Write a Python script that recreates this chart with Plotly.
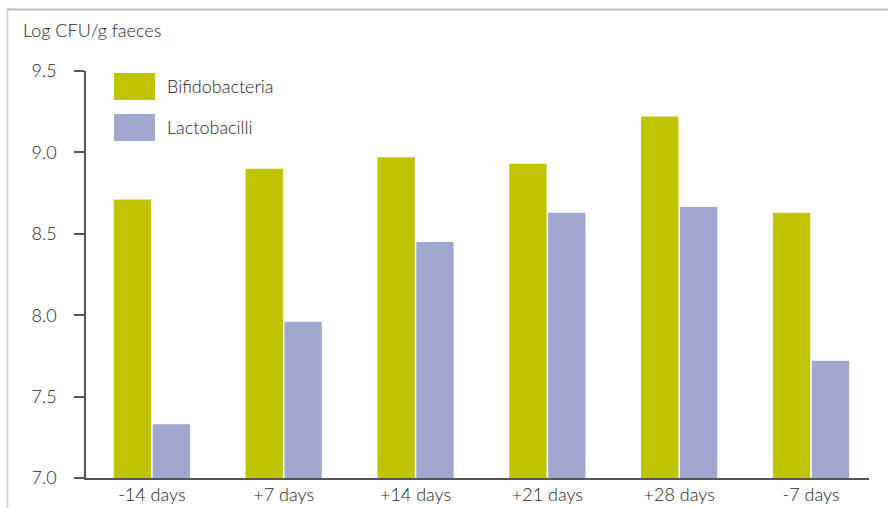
import plotly.graph_objects as go

# Faecal counts over time (log CFU per gram)
timepoints = ["-14 days", "+7 days", "+14 days", "+21 days", "+28 days", "-7 days"]
series_names = ["Bifidobacteria", "Lactobacilli"]
bifidobacteria = [8.71, 8.90, 8.97, 8.93, 9.22, 8.63]
lactobacilli = [7.33, 7.96, 8.45, 8.63, 8.665, 7.72]
series_colors = ["#C0C300", "#9EA7CD"]
y_ticks = [7.0, 7.5, 8.0, 8.5, 9.0, 9.5]
y_title = "Log CFU/g faeces"

FONT = "Lato"
TEXT = "#1E1E1E"
FS = 18
FW = 300

fig = go.Figure()
for name, vals, col in zip(series_names, [bifidobacteria, lactobacilli], series_colors):
    fig.add_trace(go.Bar(
        x=timepoints, y=[v - 7.0 for v in vals], base=7.0,
        name=name, marker=dict(color=col, line=dict(width=0)),
        showlegend=False,
    ))

# Plot area geometry (pixels) for converting legend/frame positions to paper coords
W, H = 888, 508
L, R, T, B = 86, 19, 71, 30
pw, ph = W - L - R, H - T - B

def px(x):
    return (x - L) / pw

def py(y):
    return (H - B - y) / ph

shapes = []
annotations = []

# Legend: swatches with labels
for i, (name, col) in enumerate(zip(series_names, series_colors)):
    top = 73 + i * 41
    shapes.append(dict(type="rect", xref="paper", yref="paper",
                       x0=px(114), x1=px(155), y0=py(top + 27), y1=py(top),
                       fillcolor=col, line=dict(width=0)))
    annotations.append(dict(xref="paper", yref="paper", x=px(165), y=py(top + 13.5),
                            text=name, showarrow=False, xanchor="left", yanchor="middle",
                            font=dict(family=FONT, size=FS, color=TEXT, weight=FW)))

# Outer frame (top and left edges)
shapes.append(dict(type="line", xref="paper", yref="paper",
                   x0=px(7), x1=px(888), y0=py(9.5), y1=py(9.5),
                   line=dict(color="#BDBDBD", width=2)))
shapes.append(dict(type="line", xref="paper", yref="paper",
                   x0=px(7.5), x1=px(7.5), y0=py(9), y1=py(510),
                   line=dict(color="#CFCFCF", width=1.5)))

# Axis title above the y axis
annotations.append(dict(xref="paper", yref="paper", x=px(21), y=py(30),
                        text=y_title, showarrow=False, xanchor="left", yanchor="middle",
                        font=dict(family=FONT, size=FS, color=TEXT, weight=FW)))

fig.update_layout(
    width=W, height=H,
    margin=dict(l=L, r=R, t=T, b=B),
    paper_bgcolor="white", plot_bgcolor="white",
    barmode="group", bargap=0.41, bargroupgap=0.04,
    shapes=shapes, annotations=annotations,
    font=dict(family=FONT, size=FS, color=TEXT),
)
fig.update_xaxes(
    range=[-0.5, 5.44], showgrid=False, zeroline=False, automargin=False,
    showline=True, linecolor="#555555", linewidth=1.5,
    ticks="", ticklabelstandoff=0,
    tickfont=dict(family=FONT, size=FS, color=TEXT, weight=FW),
)
fig.update_yaxes(
    range=[7.0, 9.5], tickvals=y_ticks, ticktext=[f"{v:.1f}" for v in y_ticks],
    showgrid=False, zeroline=False, automargin=False,
    showline=True, linecolor="#555555", linewidth=1.5,
    ticks="outside", ticklen=10, tickwidth=1.5, tickcolor="#555555",
    ticklabelstandoff=14,
    tickfont=dict(family=FONT, size=FS, color=TEXT, weight=FW),
)

fig.write_html("out.html")
